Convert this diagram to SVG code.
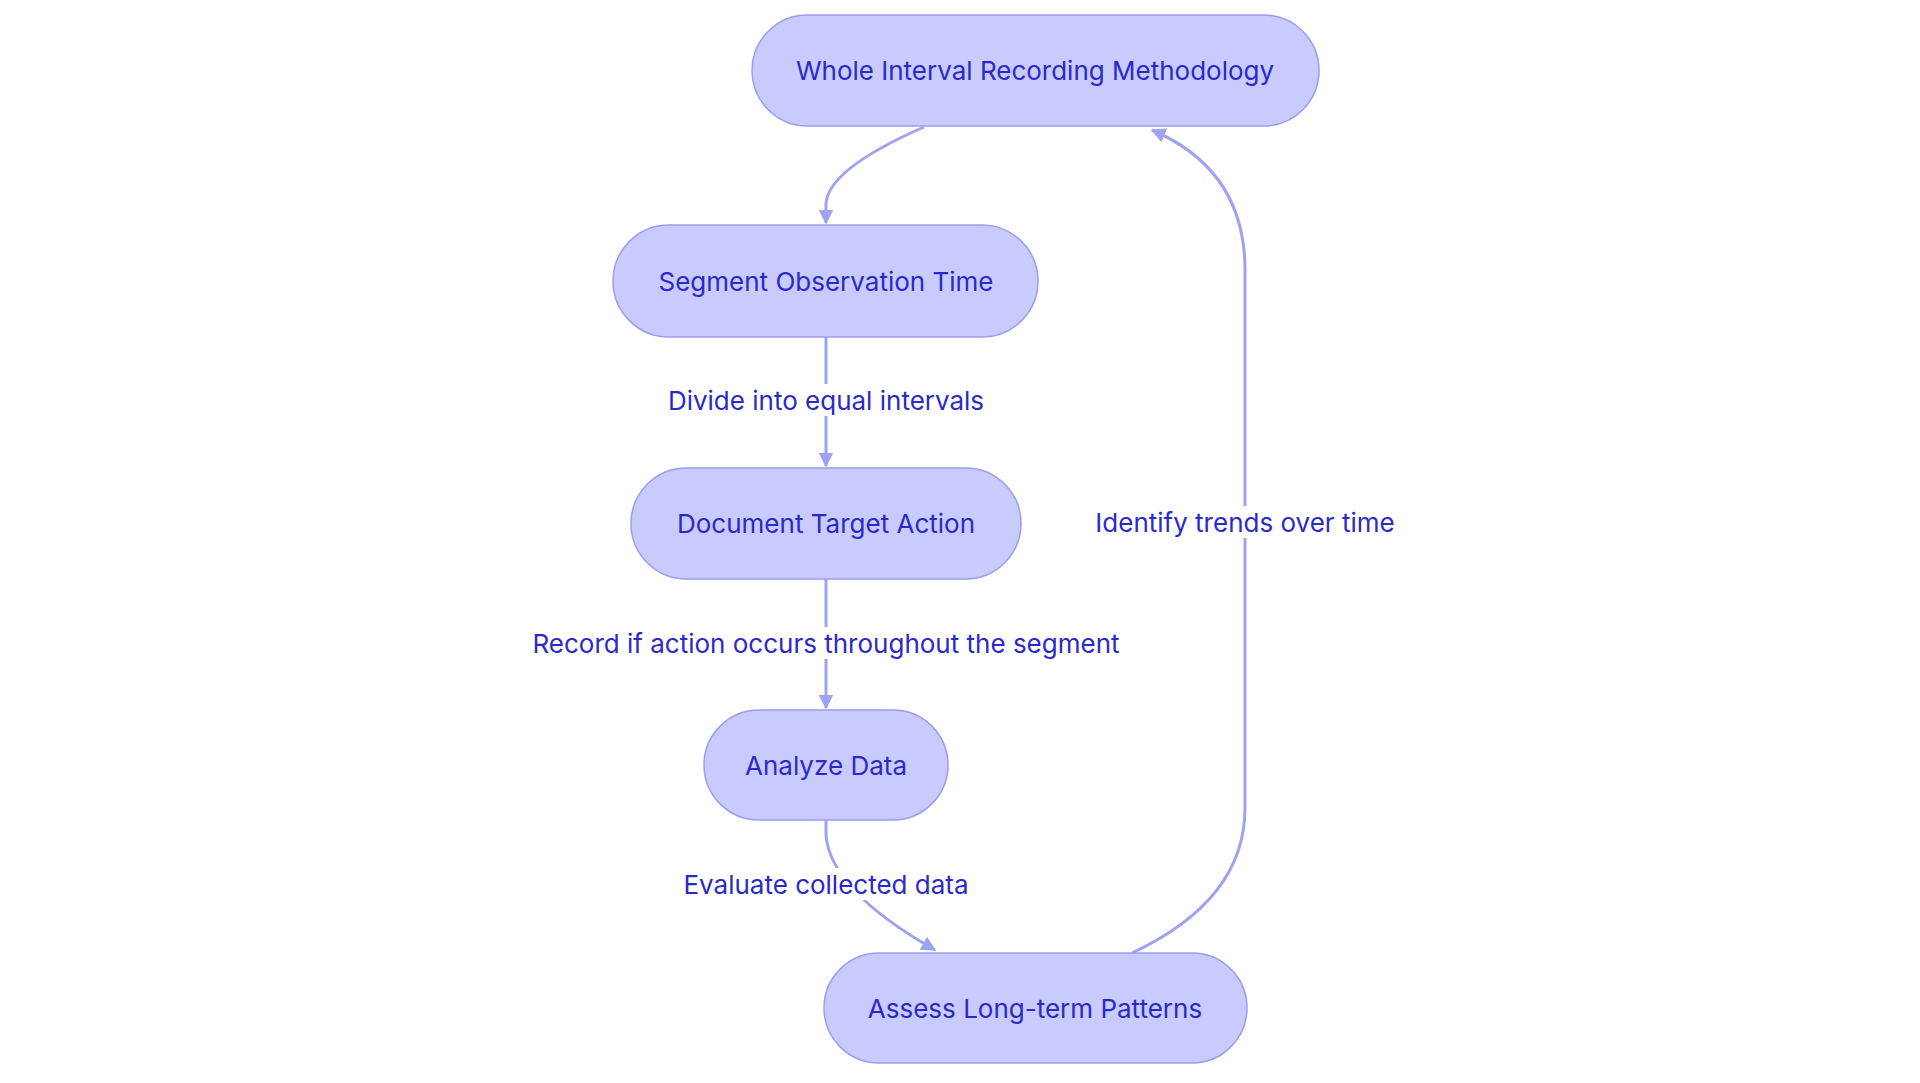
<svg xmlns="http://www.w3.org/2000/svg" width="1920" height="1083" viewBox="0 0 1920 1083">
<style>
.n rect{fill:#c9cafe;stroke:#9a9df0;stroke-width:1.5}
text{font-family:Inter,"Noto Sans",sans-serif;font-size:26px;fill:#2a2ac8;text-anchor:middle;dominant-baseline:central}
.e path{fill:none;stroke:#9fa2f0;stroke-width:3}
.lb{fill:#fff}
</style>
<defs><marker id="a" viewBox="0 0 10 10" refX="9" refY="5" markerWidth="5" markerHeight="5" orient="auto-start-reverse" markerUnits="strokeWidth"><path d="M0,0L10,5L0,10z" fill="#9fa2f0"/></marker></defs>
<rect width="1920" height="1083" fill="#fff"/>
<g class="e">
<path d="M924,127 Q826,170 826,205 L826,223" marker-end="url(#a)"/>
<path d="M826,337 L826,466" marker-end="url(#a)"/>
<path d="M826,579 L826,708" marker-end="url(#a)"/>
<path d="M826,820 L826,835 Q830,890 935,950" marker-end="url(#a)"/>
<path d="M1132,953 Q1245,900 1245,808 L1245,270 Q1245,170 1152,130" marker-end="url(#a)"/>
<rect class="lb" x="662" y="384" width="328" height="32"/>
<text x="826" y="400">Divide into equal intervals</text>
<rect class="lb" x="518" y="627" width="616" height="32"/>
<text x="826" y="643">Record if action occurs throughout the segment</text>
<rect class="lb" x="674" y="868" width="304" height="32"/>
<text x="826" y="884">Evaluate collected data</text>
<rect class="lb" x="1090" y="506" width="310" height="32"/>
<text x="1245" y="522">Identify trends over time</text>
</g>
<g id="n1" class="n"><rect x="752" y="15" width="567" height="111" rx="55.5"/><text x="1035" y="70">Whole Interval Recording Methodology</text></g>
<g id="n2" class="n"><rect x="613" y="225" width="425" height="112" rx="56"/><text x="826" y="281">Segment Observation Time</text></g>
<g id="n3" class="n"><rect x="631" y="468" width="390" height="111" rx="55.5"/><text x="826" y="523">Document Target Action</text></g>
<g id="n4" class="n"><rect x="704" y="710" width="244" height="110" rx="55"/><text x="826" y="765">Analyze Data</text></g>
<g id="n5" class="n"><rect x="824" y="953" width="423" height="110" rx="55"/><text x="1035" y="1008">Assess Long-term Patterns</text></g>
</svg>
